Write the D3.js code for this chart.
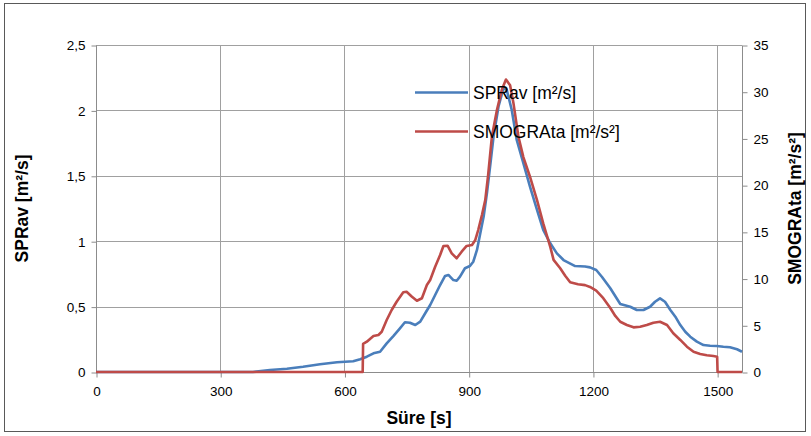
<!DOCTYPE html>
<html><head><meta charset="utf-8">
<script src="https://cdn.jsdelivr.net/npm/d3@7"></script>
<style>
body{margin:0;background:#fff;}
text{font-family:"Liberation Sans",Arial,sans-serif;fill:#000;}
</style></head>
<body><svg id="c" width="811" height="436"></svg>
<script>
// time [s]
const sprTime = [0,379,420,461,500,541,582,621,638,654,670,686,702,718,734,746,758,771,783,795,807,819,831,843,851,863,871,879,891,903,911,920,928,936,944,952,960,972,984,992,1004,1016,1032,1048,1065,1080,1097,1113,1129,1157,1181,1193,1208,1222,1242,1266,1290,1306,1322,1338,1350,1362,1374,1387,1399,1411,1423,1435,1451,1467,1483,1499,1515,1531,1548,1560];
const sprValues = [0,0,0.015,0.025,0.04,0.059,0.074,0.082,0.097,0.117,0.143,0.155,0.219,0.275,0.334,0.38,0.377,0.359,0.385,0.449,0.512,0.589,0.665,0.734,0.742,0.703,0.698,0.729,0.793,0.81,0.843,0.933,1.06,1.187,1.366,1.58,1.80,2.03,2.17,2.156,2.003,1.774,1.596,1.417,1.239,1.086,0.984,0.907,0.856,0.81,0.807,0.80,0.78,0.726,0.64,0.52,0.499,0.474,0.474,0.499,0.537,0.563,0.537,0.474,0.423,0.359,0.308,0.27,0.232,0.206,0.201,0.199,0.193,0.189,0.174,0.155];
const smogTime = [0,644,645,654,670,682,690,702,714,726,742,750,763,775,787,799,807,819,831,839,849,859,871,883,895,908,916,923,932,940,947,956,968,980,990,1000,1008,1020,1032,1048,1065,1080,1097,1105,1121,1133,1145,1164,1181,1193,1208,1225,1242,1254,1266,1282,1298,1314,1330,1346,1362,1379,1394,1411,1427,1443,1459,1475,1491,1500,1501,1560];
const smogValues = [0,0,3.0,3.24,3.85,3.96,4.31,5.57,6.64,7.52,8.53,8.59,8.06,7.63,7.89,9.31,9.85,11.27,12.52,13.49,13.52,12.7,12.17,12.88,13.49,13.59,14.13,15.2,16.8,18.4,21.1,25.2,28.0,30.2,31.3,30.7,28.8,25.2,23.0,20.9,18.4,15.9,13.4,12.0,11.1,10.3,9.6,9.4,9.3,9.1,8.7,7.9,6.85,6.0,5.38,5.03,4.78,4.85,5.03,5.28,5.38,5.03,4.14,3.43,2.71,2.17,1.93,1.79,1.71,1.64,0,0];
const xTicks = [0,300,600,900,1200,1500];
const yLeftTicks = [0,0.5,1,1.5,2,2.5];
const yRightTicks = [0,5,10,15,20,25,30,35];
const seriesNames = ["SPRav [m²/s]","SMOGRAta [m²/s²]"];
const axisTitles = {x:"Süre [s]", yl:"SPRav [m²/s]", yr:"SMOGRAta [m²/s²]"};

const svg = d3.select("#c");
const L=96, R=742, T=45, B=372;
const x = d3.scaleLinear().domain([0,1560]).range([L,R]);
const yl = d3.scaleLinear().domain([0,2.5]).range([B,T]);
const yr = d3.scaleLinear().domain([0,35]).range([B,T]);
const fmt = d => String(d).replace(".",",");

// outer border
svg.append("rect").attr("x",4.5).attr("y",3.5).attr("width",801).attr("height",428)
  .attr("fill","none").attr("stroke","#595959").attr("stroke-width",1);

// gridlines
const g = svg.append("g");
g.selectAll(".hg").data(yLeftTicks.filter(d=>d>0)).join("line")
  .attr("x1",L).attr("x2",R).attr("y1",d=>Math.round(yl(d))+0.5).attr("y2",d=>Math.round(yl(d))+0.5)
  .attr("stroke","#a0a0a0");
g.selectAll(".vg").data(xTicks.filter(d=>d>0)).join("line")
  .attr("y1",T).attr("y2",B).attr("x1",d=>Math.round(x(d))+0.5).attr("x2",d=>Math.round(x(d))+0.5)
  .attr("stroke","#a0a0a0");

// axes
const axL = svg.append("g").attr("transform",`translate(${L+0.5},0.5)`)
  .call(d3.axisLeft(yl).tickValues(yLeftTicks).tickFormat(fmt).tickSize(5).tickPadding(6));
const axR = svg.append("g").attr("transform",`translate(${R+0.5},0.5)`)
  .call(d3.axisRight(yr).tickValues(yRightTicks).tickFormat(d=>String(d)).tickSize(5).tickPadding(6));
const axB = svg.append("g").attr("transform",`translate(0.5,${B+0.5})`)
  .call(d3.axisBottom(x).tickValues(xTicks).tickFormat(d=>String(d)).tickSize(5).tickPadding(9));
[axL,axR,axB].forEach(a=>{
  a.select(".domain").attr("stroke","#8c8c8c");
  a.selectAll(".tick line").attr("stroke","#8c8c8c");
  a.selectAll("text").attr("font-size","13.5px").attr("fill","#111").style("font-family","'Liberation Sans',Arial,sans-serif");
});
axL.select(".domain").attr("d",`M0,${B}V${T}`);
axR.select(".domain").attr("d",`M0,${B}V${T}`);
axB.select(".domain").attr("d",`M${L},0H${R}`);

// lines
const lineL = d3.line().x(d=>x(d[0])).y(d=>yl(d[1]));
const lineR = d3.line().x(d=>x(d[0])).y(d=>yr(d[1]));
svg.append("path").datum(d3.zip(sprTime,sprValues)).attr("d",lineL)
  .attr("fill","none").attr("stroke","#4a7ebb").attr("stroke-width",2.6).attr("stroke-linejoin","round");
svg.append("path").datum(d3.zip(smogTime,smogValues)).attr("d",lineR)
  .attr("fill","none").attr("stroke","#be4b48").attr("stroke-width",2.6).attr("stroke-linejoin","round");

// axis titles
svg.append("text").attr("x",(L+R)/2).attr("y",424).attr("text-anchor","middle")
  .attr("font-size","17.5px").attr("font-weight","bold").text(axisTitles.x);
svg.append("text").attr("transform",`translate(28,${(T+B)/2}) rotate(-90)`).attr("text-anchor","middle")
  .attr("font-size","17.5px").attr("font-weight","bold").text(axisTitles.yl);
svg.append("text").attr("transform",`translate(801,${(T+B)/2}) rotate(-90)`).attr("text-anchor","middle")
  .attr("font-size","17.5px").attr("font-weight","bold").text(axisTitles.yr);

// legend
const colors = ["#4a7ebb","#be4b48"];
const legY = [92.5,131.5];
seriesNames.forEach((n,i)=>{
  svg.append("line").attr("x1",415).attr("x2",468).attr("y1",legY[i]).attr("y2",legY[i])
    .attr("stroke",colors[i]).attr("stroke-width",2.6);
  svg.append("text").attr("x",473).attr("y",legY[i]+6.3).attr("font-size","17.5px").text(n);
});
</script></body></html>
